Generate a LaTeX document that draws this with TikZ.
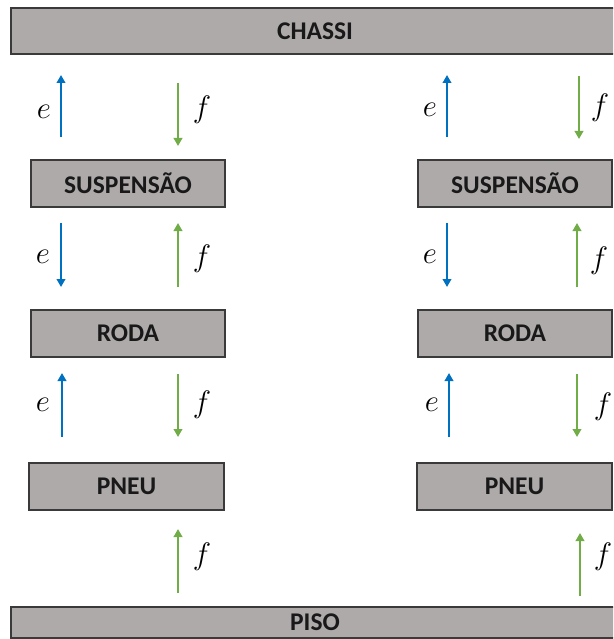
\RequirePackage{fix-cm}
\documentclass[tikz,border=0pt]{standalone}
\usepackage{fontspec}
\setmainfont{Carlito}
\usetikzlibrary{arrows.meta}
\definecolor{boxgray}{HTML}{AEAAAA}
\definecolor{boxline}{HTML}{3A3A3A}
\definecolor{eblue}{HTML}{0070C0}
\definecolor{fgreen}{HTML}{70AD47}
\tikzset{
  blk/.style={draw=boxline, line width=1.3pt, fill=boxgray, inner sep=0pt,
    font=\bfseries\fontsize{25.5}{28}\selectfont, text=black!90},
  earrow/.style={draw=eblue, line width=2.8pt, -{Triangle[length=8pt,width=8.5pt]}},
  farrow/.style={draw=fgreen, line width=2.8pt, -{Triangle[length=8pt,width=8.5pt]}},
  lbl/.style={font=\fontsize{31}{34}\selectfont, inner sep=0pt}
}
\begin{document}
\begin{tikzpicture}[x=1pt,y=-1pt]
\clip (0,0) rectangle (613,639);
\fill[white] (0,0) rectangle (613,639);
% bars
\node[blk, minimum width=608pt, minimum height=46pt] (chassi) at (315,31) {CHASSI};
\node[blk, minimum width=608pt, minimum height=31pt] (piso) at (315,622.5) {PISO};
% left column
\node[blk, minimum width=194pt, minimum height=47pt] (suspL) at (128,183.5) {SUSPENSÃO};
\node[blk, minimum width=194pt, minimum height=47pt] (rodaL) at (128,333.5) {RODA};
\node[blk, minimum width=195pt, minimum height=47pt] (pneuL) at (126.5,486.5) {PNEU};
% right column
\node[blk, minimum width=194pt, minimum height=47pt] (suspR) at (515,183.5) {SUSPENSÃO};
\node[blk, minimum width=194pt, minimum height=47pt] (rodaR) at (515,333.5) {RODA};
\node[blk, minimum width=195pt, minimum height=47pt] (pneuR) at (514.5,486.5) {PNEU};
% arrow end points, left
\coordinate (eL1a) at (61,137); \coordinate (eL1b) at (61,75);
\coordinate (fL1a) at (178,83); \coordinate (fL1b) at (178,146);
\coordinate (eL2a) at (61,223); \coordinate (eL2b) at (61,287);
\coordinate (fL2a) at (178,287); \coordinate (fL2b) at (178,223);
\coordinate (eL3a) at (62,437); \coordinate (eL3b) at (62,373);
\coordinate (fL3a) at (178,374); \coordinate (fL3b) at (178,437);
\coordinate (fL4a) at (178,593); \coordinate (fL4b) at (178,529);
% arrow end points, right
\coordinate (eR1a) at (447,137); \coordinate (eR1b) at (447,75);
\coordinate (fR1a) at (579,76); \coordinate (fR1b) at (579,139);
\coordinate (eR2a) at (447,223); \coordinate (eR2b) at (447,287);
\coordinate (fR2a) at (577,287); \coordinate (fR2b) at (577,223);
\coordinate (eR3a) at (449,437); \coordinate (eR3b) at (449,373);
\coordinate (fR3a) at (577,374); \coordinate (fR3b) at (577,437);
\coordinate (fR4a) at (580,596); \coordinate (fR4b) at (580,533);
% arrows
\draw[earrow] (eL1a) -- (eL1b);
\draw[farrow] (fL1a) -- (fL1b);
\draw[earrow] (eL2a) -- (eL2b);
\draw[farrow] (fL2a) -- (fL2b);
\draw[earrow] (eL3a) -- (eL3b);
\draw[farrow] (fL3a) -- (fL3b);
\draw[farrow] (fL4a) -- (fL4b);
\draw[earrow] (eR1a) -- (eR1b);
\draw[farrow] (fR1a) -- (fR1b);
\draw[earrow] (eR2a) -- (eR2b);
\draw[farrow] (fR2a) -- (fR2b);
\draw[earrow] (eR3a) -- (eR3b);
\draw[farrow] (fR3a) -- (fR3b);
\draw[farrow] (fR4a) -- (fR4b);
% labels
\node[lbl] (le1) at (44,112) {$e$};
\node[lbl] (lf1) at (202,110) {$f$};
\node[lbl] (le2) at (43,257) {$e$};
\node[lbl] (lf2) at (202,259) {$f$};
\node[lbl] (le3) at (43,405) {$e$};
\node[lbl] (lf3) at (202,405) {$f$};
\node[lbl] (lf4) at (202,557) {$f$};
\node[lbl] (re1) at (430,110) {$e$};
\node[lbl] (rf1) at (600,108) {$f$};
\node[lbl] (re2) at (430,257) {$e$};
\node[lbl] (rf2) at (599,261) {$f$};
\node[lbl] (re3) at (432,405) {$e$};
\node[lbl] (rf3) at (603,407) {$f$};
\node[lbl] (rf4) at (603,557) {$f$};
\end{tikzpicture}
\end{document}
